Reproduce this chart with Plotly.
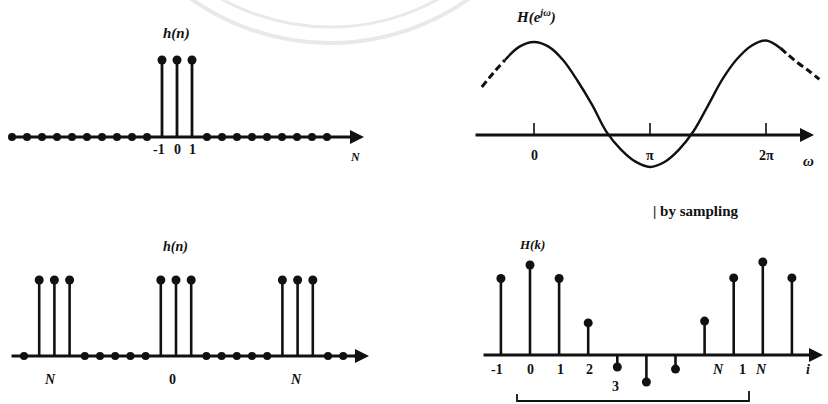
import plotly.graph_objects as go

# ---------------- data ----------------
# Panel 1: h(n), finite-length sequence
n1_stem = [-1, 0, 1]
h1_stem = [1, 1, 1]
n1_zero = [-11, -10, -9, -8, -7, -6, -5, -4, -3, -2, 2, 3, 4, 5, 6, 7, 8, 9, 10]
n1_tick_pos = [-1.2, 0, 1]
n1_tick_labels = ["-1", "0", "1"]

# Panel 2: H(e^jw)  (w in units of pi)
w2_solid = [-0.25, -0.125, 0.0, 0.125, 0.25, 0.375, 0.5, 0.625, 0.75, 0.875, 1.0,
            1.125, 1.25, 1.375, 1.5, 1.625, 1.75, 1.875, 2.0, 2.125]
H2_solid = [2.42, 2.85, 3.0, 2.85, 2.42, 1.75, 0.98, 0.1, -0.47, -0.86, -1.03,
            -0.87, -0.47, 0.12, 0.95, 1.8, 2.45, 2.88, 3.05, 2.8]
w2_dash_left = [-0.45, -0.35, -0.25]
H2_dash_left = [1.55, 2.0, 2.42]
w2_dash_right = [2.125, 2.25, 2.375, 2.46]
H2_dash_right = [2.8, 2.4, 2.05, 1.8]
w2_ticks = [0, 1, 2]
w2_tick_labels = ["0", "π", "2π"]

# Panel 3: periodic h(n)
n3_stem = [-9, -8, -7, -1, 0, 1, 7, 8, 9]
h3_stem = [1, 1, 1, 1, 1, 1, 1, 1, 1]
n3_zero = [-10, -6, -5, -4, -3, -2, 2, 3, 4, 5, 6, 10, 11, 12]
n3_tick_pos = [-8.3, -0.2, 7.9]
n3_tick_labels = ["N", "0", "N"]

# Panel 4: H(k) by sampling
k4 = [-1, 0, 1, 2, 3, 4, 5, 6, 7, 8, 9]
H4 = [2.55, 3.0, 2.55, 1.07, -0.4, -0.9, -0.47, 1.13, 2.57, 3.1, 2.57]
k4_tick_pos = [-1.15, 0, 1.05, 2.05, 2.95, 6.45, 7.3, 7.95, 9.55]
k4_tick_labels = ["-1", "0", "1", "2", "3", "N", "1", "N", "i"]

# ---------------- layout geometry (pixels) ----------------
W, H = 828, 404
P = {
    1: dict(xd=(0, 414), yd=(0, 202), x0=177, sx=15.0, y0=137, sy=77),
    2: dict(xd=(414, 828), yd=(0, 202), x0=534, sx=116.0, y0=135, sy=31),
    3: dict(xd=(0, 414), yd=(202, 404), x0=176, sx=15.2, y0=356, sy=76),
    4: dict(xd=(414, 828), yd=(202, 404), x0=530, sx=29.1, y0=355, sy=30),
}


def xd(i, px):
    p = P[i]
    return (px - p["x0"]) / p["sx"]


def yd(i, py):
    p = P[i]
    return (p["y0"] - py) / p["sy"]


def ax(i):
    return ("x" if i == 1 else f"x{i}"), ("y" if i == 1 else f"y{i}")


BLACK = "#111111"
FONT = "Liberation Serif"

fig = go.Figure()
annotations = []
shapes = []


def stems(i, xs, vs, width=2.8, msize=9):
    xr, yr = ax(i)
    sx, sy = [], []
    for x, v in zip(xs, vs):
        sx += [x, x, None]
        sy += [0, v, None]
    fig.add_trace(go.Scatter(x=sx, y=sy, mode="lines", xaxis=xr, yaxis=yr,
                             line=dict(color=BLACK, width=width), hoverinfo="skip"))
    fig.add_trace(go.Scatter(x=xs, y=vs, mode="markers", xaxis=xr, yaxis=yr,
                             marker=dict(color=BLACK, size=msize), hoverinfo="skip"))


def zeros(i, xs, msize=8):
    xr, yr = ax(i)
    fig.add_trace(go.Scatter(x=xs, y=[0] * len(xs), mode="markers", xaxis=xr, yaxis=yr,
                             marker=dict(color=BLACK, size=msize), hoverinfo="skip"))


def arrow_axis(i, px_start, px_end, width=2.8):
    xr, yr = ax(i)
    annotations.append(dict(x=xd(i, px_end), y=0, ax=xd(i, px_start), ay=0,
                            xref=xr, yref=yr, axref=xr, ayref=yr, text="",
                            showarrow=True, arrowhead=2, arrowsize=1.0,
                            arrowwidth=width, arrowcolor=BLACK, standoff=0))


def label(i, x, py, text, size=14, italic=False):
    xr, yr = ax(i)
    t = f"<b>{text}</b>"
    if italic:
        t = f"<i>{t}</i>"
    annotations.append(dict(x=x, y=yd(i, py), xref=xr, yref=yr, text=t,
                            showarrow=False, font=dict(family=FONT, size=size, color=BLACK),
                            xanchor="center", yanchor="middle"))


# ---- Panel 1 ----
arrow_axis(1, 8, 364)
zeros(1, n1_zero)
stems(1, n1_stem, h1_stem)
for x, t in zip(n1_tick_pos, n1_tick_labels):
    label(1, x, 149, t, size=14)
label(1, xd(1, 176), 33, "h(n)", size=15, italic=True)
label(1, xd(1, 355), 157, "N", size=12, italic=True)

# ---- Panel 2 ----
arrow_axis(2, 474, 814)
xr2, yr2 = ax(2)
tx, ty = [], []
for w in w2_ticks:
    tx += [w, w, None]
    ty += [0, yd(2, 123), None]
fig.add_trace(go.Scatter(x=tx, y=ty, mode="lines", xaxis=xr2, yaxis=yr2,
                         line=dict(color=BLACK, width=1.6), hoverinfo="skip"))
fig.add_trace(go.Scatter(x=w2_solid, y=H2_solid, mode="lines", xaxis=xr2, yaxis=yr2,
                         line=dict(color=BLACK, width=2.4, shape="spline", smoothing=1.0),
                         hoverinfo="skip"))
for wx, hy in ((w2_dash_left, H2_dash_left), (w2_dash_right, H2_dash_right)):
    fig.add_trace(go.Scatter(x=wx, y=hy, mode="lines", xaxis=xr2, yaxis=yr2,
                             line=dict(color=BLACK, width=3, dash="7px,4px", shape="spline"),
                             hoverinfo="skip"))
for w, t in zip(w2_ticks, w2_tick_labels):
    label(2, w, 155, t, size=14)
label(2, xd(2, 536), 16, "H(e<sup>jω</sup>)", size=15, italic=True)
label(2, xd(2, 808), 161, "ω", size=15, italic=True)

# ---- Panel 3 ----
arrow_axis(3, 10, 369)
zeros(3, n3_zero)
stems(3, n3_stem, h3_stem, width=2.6)
for x, t in zip(n3_tick_pos, n3_tick_labels):
    label(3, x, 379, t, size=14, italic=(t != "0"))
label(3, xd(3, 175), 247, "h(n)", size=14, italic=True)

# ---- Panel 4 ----
arrow_axis(4, 482, 823)
stems(4, k4, H4, width=2.6, msize=9)
for x, t in zip(k4_tick_pos, k4_tick_labels):
    py = 386 if t == "3" else 369
    label(4, x, py, t, size=14, italic=(t in ("N", "i")))
label(4, xd(4, 532), 244, "H(k)", size=13, italic=True)
label(4, xd(4, 695), 211, "| by sampling", size=15)

# bracket under the samples
xr4, yr4 = ax(4)
shapes.append(dict(type="path", xref=xr4, yref=yr4,
                   path=f"M {xd(4,517)},{yd(4,394)} L {xd(4,517)},{yd(4,401)} "
                        f"L {xd(4,749)},{yd(4,401)} L {xd(4,749)},{yd(4,391)}",
                   line=dict(color=BLACK, width=1.8)))

# faint watermark seal arcs
for r, wdt in ((240, 4), (224, 3)):
    cx, cy = 330, -197
    shapes.append(dict(type="circle", xref="paper", yref="paper", layer="below",
                       x0=(cx - r) / W, x1=(cx + r) / W,
                       y0=1 - (cy + r) / H, y1=1 - (cy - r) / H,
                       line=dict(color="#e9e9e9", width=wdt)))

# ---------------- axes ----------------
lay = dict(width=W, height=H, margin=dict(l=0, r=0, t=0, b=0),
           paper_bgcolor="white", plot_bgcolor="rgba(0,0,0,0)", showlegend=False,
           annotations=annotations, shapes=shapes)
for i, p in P.items():
    xk = "xaxis" if i == 1 else f"xaxis{i}"
    yk = "yaxis" if i == 1 else f"yaxis{i}"
    xr, yr = ax(i)
    lay[xk] = dict(domain=[p["xd"][0] / W, p["xd"][1] / W],
                   range=[xd(i, p["xd"][0]), xd(i, p["xd"][1])],
                   visible=False, anchor=yr, fixedrange=True)
    lay[yk] = dict(domain=[1 - p["yd"][1] / H, 1 - p["yd"][0] / H],
                   range=[yd(i, p["yd"][1]), yd(i, p["yd"][0])],
                   visible=False, anchor=xr, fixedrange=True)
fig.update_layout(**lay)
fig.update_traces(cliponaxis=False)

fig.write_html("out.html", config={"displayModeBar": False},
               post_script="document.body.style.margin='0px';document.body.style.overflow='hidden';")
